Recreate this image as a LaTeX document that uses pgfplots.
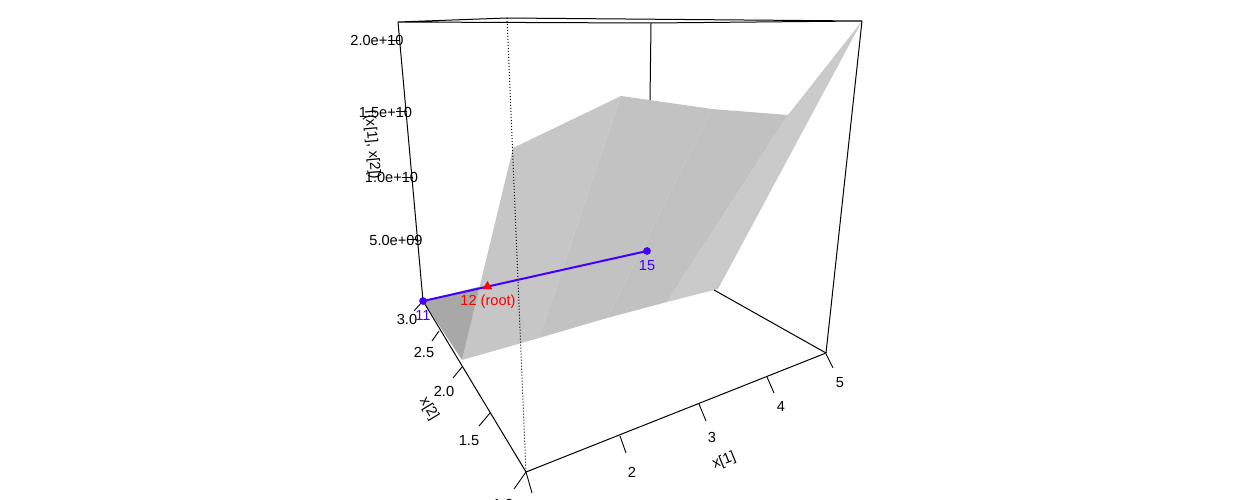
\documentclass[border=0pt]{standalone}
\usepackage{pgfplots}
\pgfplotsset{compat=1.18}
\usepackage{fontspec}
\setmainfont{Liberation Sans}
\definecolor{blu}{HTML}{4400FF}
\definecolor{f1}{HTML}{C6C6C6}
\definecolor{f2}{HTML}{C2C2C2}
\definecolor{f3}{HTML}{C1C1C1}
\definecolor{f4}{HTML}{CACACA}
\definecolor{f0}{HTML}{A8A8A8}
\begin{document}
\begin{tikzpicture}[x=1pt,y=1pt]
\useasboundingbox (0,0) rectangle (1242,500);
\clip (0,0) rectangle (1242,500);
\begin{axis}[at={(0,0)},anchor=south west,scale only axis,width=1242pt,height=500pt,
  xmin=0,xmax=1242,ymin=0,ymax=500,y dir=reverse,hide axis,clip=false,
  nodes={font=\fontsize{14.6}{16}\selectfont,inner sep=0pt}]
% facets
\addplot[fill=f0,draw=none] coordinates {(423,301)(482,286)(462,360)} --cycle;
\addplot[fill=f1,draw=none] coordinates {(462,360)(513,148)(621,96)(539,338)} --cycle;
\addplot[fill=f2,draw=none] coordinates {(539,338)(621,96)(712,109)(607,318)} --cycle;
\addplot[fill=f3,draw=none] coordinates {(607,318)(712,109)(788,115)(667,302)} --cycle;
\addplot[fill=f4,draw=none] coordinates {(667,302)(788,115)(862,21)(718,289)} --cycle;
% box
\addplot[black,line width=1pt] coordinates {(398,22)(423,301)};
\addplot[black,line width=1pt] coordinates {(862,21)(826,353)};
\addplot[black,line width=1pt] coordinates {(423,301)(526,472)(826,353)(714,290)};
\addplot[black,line width=1pt] coordinates {(398,22)(507,18)(862,21)(651,23)(398,22)};
\addplot[black,line width=1pt] coordinates {(651,23)(650,100)};
\addplot[black,line width=1pt,dash pattern=on 1pt off 2pt] coordinates {(507,18)(526,472)};
% x ticks
\addplot[black,line width=0.9pt] coordinates {(526,472)(532,493)};
\addplot[black,line width=0.9pt] coordinates {(620,436)(626,453)};
\addplot[black,line width=0.9pt] coordinates {(699,404)(706,421)};
\addplot[black,line width=0.9pt] coordinates {(767,377)(774,393)};
\addplot[black,line width=0.9pt] coordinates {(826,354)(833,368)};
% y ticks
\addplot[black,line width=0.9pt] coordinates {(526,472)(514,489)};
\addplot[black,line width=0.9pt] coordinates {(490,413)(479,426)};
\addplot[black,line width=0.9pt] coordinates {(462,367)(453,378)};
\addplot[black,line width=0.9pt] coordinates {(439,331)(432,341)};
\addplot[black,line width=0.9pt] coordinates {(423,301)(414,311)};
% z ticks
\addplot[black,line width=0.9pt] coordinates {(388,40)(400,40)};
\addplot[black,line width=0.9pt] coordinates {(396,111)(407,111)};
\addplot[black,line width=0.9pt] coordinates {(402,177)(413,177)};
\addplot[black,line width=0.9pt] coordinates {(407,239)(418,239)};
% path
\addplot[blu,line width=2pt] coordinates {(423,301)(647,251)};
\addplot[only marks,mark=*,mark size=3.6pt,blu] coordinates {(423,301)(647,251)};
\addplot[only marks,mark=triangle*,mark size=5pt,red] coordinates {(487.5,286.5)};
% labels
\node at (axis cs:377,40.5) {2.0e+10};
\node at (axis cs:385.5,112.5) {1.5e+10};
\node at (axis cs:391.5,177.5) {1.0e+10};
\node at (axis cs:396,240.5) {5.0e+09};
\node[rotate=-85] at (axis cs:372,145) {f(x[1], x[2])};
\node at (axis cs:632,472.5) {2};
\node at (axis cs:712,437.5) {3};
\node at (axis cs:781,406.5) {4};
\node at (axis cs:840,382.5) {5};
\node at (axis cs:503,504) {1.0};
\node at (axis cs:469,440.5) {1.5};
\node at (axis cs:444,391.5) {2.0};
\node at (axis cs:424,352.5) {2.5};
\node at (axis cs:407,319.5) {3.0};
\node[rotate=22] at (axis cs:724,461) {x[1]};
\node[rotate=-59] at (axis cs:429,409) {x[2]};
\node[text=blu] at (axis cs:423,315) {11};
\node[text=blu] at (axis cs:647,265.5) {15};
\node[text=red] at (axis cs:488,301.5) {12 (root)};
\end{axis}
\end{tikzpicture}
\end{document}
